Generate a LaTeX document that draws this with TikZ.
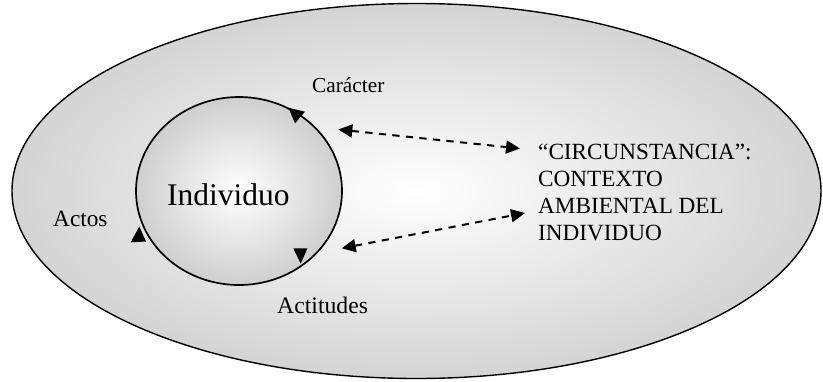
\documentclass[tikz,border=0pt]{standalone}
\usepackage{fontspec}
\setmainfont{Liberation Serif}
\usetikzlibrary{arrows.meta}
\definecolor{edgegray}{HTML}{D4D4D4}
\definecolor{innergray}{HTML}{CFCFCF}
\begin{document}
\begin{tikzpicture}[x=1pt,y=-1pt,
  lbl/.style={inner sep=0pt,anchor=base west},
  dasharrow/.style={line width=2pt,dash pattern=on 7.3pt off 6.3pt,
    {Triangle[length=14pt,width=13pt]}-{Triangle[length=14pt,width=13pt]}},
  tipmark/.style={fill=black}]
\useasboundingbox (0,0) rectangle (823,381);
% outer ellipse
\draw[line width=1.4pt,shading=radial,inner color=white,outer color=edgegray]
  (416.5,191) ellipse [x radius=404.5,y radius=187.5];
% inner circle
\draw[line width=1.7pt,shading=radial,inner color=white,outer color=innergray]
  (239,191) ellipse [x radius=103,y radius=94];
% arrowheads on the circle
\fill[tipmark] (288.3,107.7) -- (295,123.3) -- (305,111.7) -- cycle;
\fill[tipmark] (293.3,248.3) -- (307.5,248.3) -- (300.7,263.5) -- cycle;
\fill[tipmark] (139.3,226.5) -- (130.7,242.3) -- (146,241.5) -- cycle;
% texts
\node[lbl,font=\fontsize{31.5}{36}\selectfont] (indiv) at (167,205) {Individuo};
\node[lbl,font=\fontsize{21.3}{25}\selectfont] (caracter) at (312,92) {Carácter};
\node[lbl,font=\fontsize{23.7}{28}\selectfont] (actitudes) at (277,313.5) {Actitudes};
\node[lbl,font=\fontsize{23.3}{28}\selectfont] (actos) at (53,226) {Actos};
\node[inner sep=0pt,anchor=north west,align=left,font=\fontsize{23.2}{27}\selectfont] (circ) at (538,144)
  {“CIRCUNSTANCIA”:\\CONTEXTO\\AMBIENTAL DEL\\INDIVIDUO};
% dashed connectors
\coordinate (c1) at (338.3,129.5);
\coordinate (t1) at (520,148.5);
\coordinate (c2) at (341.7,248.3);
\coordinate (t2) at (525,213);
\draw[dasharrow] (c1) -- (t1);
\draw[dasharrow] (c2) -- (t2);
\end{tikzpicture}
\end{document}
